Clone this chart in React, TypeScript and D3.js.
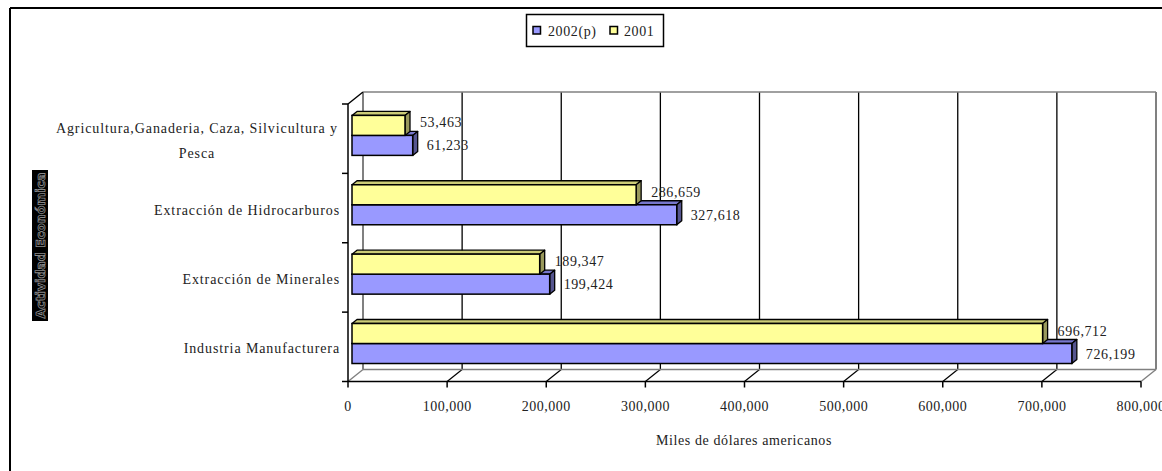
import React, { useEffect, useRef } from "react";
import * as d3 from "d3";

const categories = [
  "Agricultura,Ganaderia, Caza, Silvicultura y\nPesca",
  "Extracción de Hidrocarburos",
  "Extracción de Minerales",
  "Industria Manufacturera",
];
const series2002 = [61233, 327618, 199424, 726199];
const series2001 = [53463, 286659, 189347, 696712];
const xTicks = [0, 100000, 200000, 300000, 400000, 500000, 600000, 700000, 800000];
const legendLabels = ["2002(p)", "2001"];
const xTitle = "Miles de dólares americanos";
const yTitle = "Actividad Económica";

const W = 1162, H = 471;
const FONT = "'Liberation Serif', 'Times New Roman', serif";

export default function App() {
  const ref = useRef<SVGSVGElement>(null);
  useEffect(() => {
    const svg = d3.select(ref.current);
    svg.selectAll("*").remove();

    const front = { left: 348, right: 1141, top: 104, bottom: 381.5 };
    const DX = 15, DY = -12; // chart depth
    const PX = 4, PY = -3.3; // bar plane offset
    const BDX = 5, BDY = -4; // bar depth
    const barH = 20;

    const x = d3.scaleLinear().domain([0, 800000]).range([front.left, front.right]);
    const y = d3.scaleBand<string>().domain(categories).range([front.top, front.bottom]).padding(0);

    // outer frame
    svg.append("line").attr("x1", 10).attr("y1", 8).attr("x2", W).attr("y2", 8).attr("stroke", "#000").attr("stroke-width", 2);
    svg.append("line").attr("x1", 10).attr("y1", 8).attr("x2", 10).attr("y2", H).attr("stroke", "#000").attr("stroke-width", 2);

    const grey = "#808080";
    const backTop = front.top + DY;
    const backBottom = front.bottom + DY;
    xTicks.forEach((t, i) => {
      const bx = x(t) + DX;
      const edge = i === 0 || i === xTicks.length - 1;
      svg.append("line").attr("x1", bx).attr("x2", bx).attr("y1", backTop).attr("y2", backBottom)
        .attr("stroke", edge ? grey : "#000").attr("stroke-width", edge ? 2 : 1.3);
      svg.append("line").attr("x1", x(t)).attr("y1", front.bottom).attr("x2", bx).attr("y2", backBottom)
        .attr("stroke", edge ? grey : "#000").attr("stroke-width", edge ? 1.5 : 1.3);
    });
    svg.append("line").attr("x1", x(0) + DX).attr("x2", x(800000) + DX).attr("y1", backTop).attr("y2", backTop)
      .attr("stroke", grey).attr("stroke-width", 1.5);
    svg.append("line").attr("x1", x(0) + DX).attr("x2", x(800000) + DX).attr("y1", backBottom).attr("y2", backBottom)
      .attr("stroke", grey).attr("stroke-width", 1.5);

    // left wall
    svg.append("line").attr("x1", front.left).attr("y1", front.top).attr("x2", front.left + DX).attr("y2", backTop)
      .attr("stroke", "#000").attr("stroke-width", 1.5);
    svg.append("line").attr("x1", front.left).attr("y1", front.top).attr("x2", front.left).attr("y2", front.bottom)
      .attr("stroke", "#000").attr("stroke-width", 1.5);
    const bounds = categories.map((c) => y(c)!).concat([front.bottom]);
    bounds.forEach((b) => {
      svg.append("line").attr("x1", front.left - 6).attr("x2", front.left).attr("y1", b).attr("y2", b)
        .attr("stroke", "#000").attr("stroke-width", 1.5);
    });

    // front x axis
    svg.append("line").attr("x1", front.left).attr("x2", front.right).attr("y1", front.bottom).attr("y2", front.bottom)
      .attr("stroke", "#000").attr("stroke-width", 1.5);
    xTicks.forEach((t) => {
      svg.append("line").attr("x1", x(t)).attr("x2", x(t)).attr("y1", front.bottom).attr("y2", front.bottom + 6)
        .attr("stroke", "#000").attr("stroke-width", 1.5);
      svg.append("text").attr("x", x(t)).attr("y", front.bottom + 29).attr("text-anchor", "middle")
        .attr("font-family", FONT).attr("font-size", 14).attr("fill", "#222").attr("letter-spacing", 0.5)
        .text(d3.format(",")(t));
    });

    // bars
    const drawBar = (x0: number, x1: number, yTop: number, fill: string, top: string, side: string) => {
      const g = svg.append("g");
      g.append("path").attr("d", `M${x0},${yTop}L${x0 + BDX},${yTop + BDY}L${x1 + BDX},${yTop + BDY}L${x1},${yTop}Z`)
        .attr("fill", top).attr("stroke", "#000").attr("stroke-width", 1.3).attr("stroke-linejoin", "round");
      g.append("path").attr("d", `M${x1},${yTop}L${x1 + BDX},${yTop + BDY}L${x1 + BDX},${yTop + BDY + barH}L${x1},${yTop + barH}Z`)
        .attr("fill", side).attr("stroke", "#000").attr("stroke-width", 1.3).attr("stroke-linejoin", "round");
      g.append("rect").attr("x", x0).attr("y", yTop).attr("width", x1 - x0).attr("height", barH)
        .attr("fill", fill).attr("stroke", "#000").attr("stroke-width", 1.5);
    };
    const fmt = d3.format(",");
    categories.forEach((c, i) => {
      const mid = y(c)! + y.bandwidth() / 2 + PY;
      const x0 = x(0) + PX;
      drawBar(x0, x(series2002[i]) + PX, mid, "#9999FF", "#7777CC", "#55558F");
      drawBar(x0, x(series2001[i]) + PX, mid - barH, "#FFFF99", "#CCCC77", "#99995C");
      svg.append("text").attr("x", x(series2001[i]) + PX + 15).attr("y", mid - barH / 2 + 2)
        .attr("font-family", FONT).attr("font-size", 14).attr("fill", "#222").attr("letter-spacing", 0.6)
        .text(fmt(series2001[i]));
      svg.append("text").attr("x", x(series2002[i]) + PX + 14).attr("y", mid + barH / 2 + 5)
        .attr("font-family", FONT).attr("font-size", 14).attr("fill", "#222").attr("letter-spacing", 0.6)
        .text(fmt(series2002[i]));
    });

    // category labels
    const LS = 0.9;
    categories.forEach((c) => {
      const lines = c.split("\n");
      const cy = y(c)! + y.bandwidth() / 2 + 1.5;
      const lh = 25;
      const t = svg.append("text").attr("font-family", FONT).attr("font-size", 14).attr("fill", "#222")
        .attr("letter-spacing", LS);
      if (lines.length === 1) {
        t.attr("x", 340).attr("y", cy + 5).attr("text-anchor", "end").text(c);
      } else {
        const tmp = svg.append("text").attr("font-family", FONT).attr("font-size", 14).attr("letter-spacing", LS).text(lines[0]);
        const w = (tmp.node() as SVGTextElement).getComputedTextLength();
        tmp.remove();
        const cx = 338 - w / 2;
        lines.forEach((l, k) => {
          t.append("tspan").attr("x", cx).attr("y", cy + 5 + (k - (lines.length - 1) / 2) * lh)
            .attr("text-anchor", "middle").text(l);
        });
      }
    });

    // x title
    svg.append("text").attr("x", 744).attr("y", 445).attr("text-anchor", "middle")
      .attr("font-family", FONT).attr("font-size", 14).attr("fill", "#222").attr("letter-spacing", 0.6).text(xTitle);

    // y title (black box)
    svg.append("rect").attr("x", 32).attr("y", 170).attr("width", 16).attr("height", 151).attr("fill", "#000");
    svg.append("text").attr("transform", `translate(44.5,245.5) rotate(-90)`).attr("text-anchor", "middle")
      .attr("font-family", "'DejaVu Sans', sans-serif").attr("font-size", 12).attr("font-weight", "bold")
      .attr("fill", "#000").attr("stroke", "#8a8a8a").attr("stroke-width", 0.8)
      .attr("textLength", 146).attr("lengthAdjust", "spacingAndGlyphs").text(yTitle);

    // legend
    const lg = svg.append("g");
    lg.append("rect").attr("x", 526.5).attr("y", 14.5).attr("width", 137).attr("height", 32)
      .attr("fill", "#fff").attr("stroke", "#000").attr("stroke-width", 1.5);
    const items = [
      { label: legendLabels[0], color: "#9999FF", sx: 533, tx: 548 },
      { label: legendLabels[1], color: "#FFFF99", sx: 610, tx: 624 },
    ];
    items.forEach((it) => {
      lg.append("rect").attr("x", it.sx).attr("y", 26.5).attr("width", 7.5).attr("height", 7.5)
        .attr("fill", it.color).attr("stroke", "#000").attr("stroke-width", 1.5);
      lg.append("text").attr("x", it.tx).attr("y", 35.5).attr("font-family", FONT).attr("font-size", 14)
        .attr("fill", "#222").attr("letter-spacing", 0.6).text(it.label);
    });
  }, []);
  return (
    <svg ref={ref} width={W} height={H} style={{ position: "absolute", left: 0, top: 0, background: "#fff" }} />
  );
}
